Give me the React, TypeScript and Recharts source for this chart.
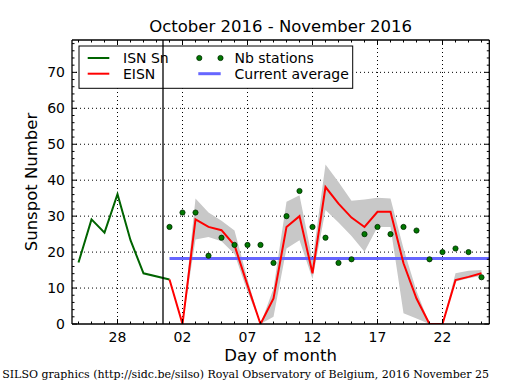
import React from "react";
import {
  ComposedChart,
  Line,
  Area,
  XAxis,
  YAxis,
  CartesianGrid,
  ReferenceLine,
} from "recharts";

// Day numbering: October d -> d, November d -> 31 + d
const isnDays = [25, 26, 27, 28, 29, 30, 32];
const isnValues = [17.1, 29.1, 25.4, 36.1, 23.3, 14.1, 12.4];

const novDays = [32, 33, 34, 35, 36, 37, 38, 39, 40, 41, 42, 43, 44, 45, 46, 47, 48, 49, 50, 51, 52, 53, 54, 55, 56];
const eisnValues = [12.4, 0, 29.1, 27.0, 26.1, 21.9, 10.8, 0, 7.1, 27.0, 30.0, 14.1, 38.1, 33.5, 29.6, 27.0, 31.2, 31.2, 16.9, 7.1, 0, 0, 12.2, 13.1, 14.1];
const nbStations = [27, 31, 31, 19, 24, 22, 22, 22, 17, 30, 37, 27, 24, 17, 18, 25, 27, 25, 27, 26, 18, 20, 21, 20, 13];

const bandDays = [33, 34, 35, 36, 37, 38, 39, 40, 41, 42, 43, 44, 45, 46, 47, 48, 49, 50, 51, 52, 53, 54, 55, 56];
const bandLow = [0, 23.5, 24.2, 23.0, 19.5, 9, 0, 2, 21, 23.3, 12.5, 31.7, 28.2, 24.5, 20.1, 27, 27, 3, 1.5, 0, 0, 11.8, 12.7, 13.4];
const bandHigh = [0, 34.9, 31.0, 28.7, 26.0, 12.5, 0, 9.9, 34, 35.8, 17.8, 44.4, 39.5, 34.3, 34.6, 35.1, 34.9, 21, 9.2, 0, 0, 14.1, 14.8, 15.0];

const currentAverage = 18.2;
const averageStartDay = 32;
const monthBoundary = 31.5;

const xDomain = [24.5, 56.6];
const yDomain = [0, 79];
const xMajorDays = [28, 33, 38, 43, 48, 53];
const xMajorLabels = ["28", "02", "07", "12", "17", "22"];
const xMinorDays = Array.from({ length: 32 }, (_, i) => 25 + i);
const yMajor = [0, 10, 20, 30, 40, 50, 60, 70];
const yMinor = Array.from({ length: 40 }, (_, i) => i * 2);

const legendLabels = ["ISN Sn", "EISN", "Nb stations", "Current average"];

const title = "October 2016 - November 2016";
const xLabel = "Day of month";
const yLabel = "Sunspot Number";
const footer = "SILSO graphics (http://sidc.be/silso) Royal Observatory of Belgium, 2016 November 25";

const rows = xMinorDays.map((d) => {
  const r: any = { day: d };
  const i1 = isnDays.indexOf(d);
  if (i1 >= 0) r.isn = isnValues[i1];
  const i2 = novDays.indexOf(d);
  if (i2 >= 0) {
    r.eisn = eisnValues[i2];
    r.nb = nbStations[i2];
  }
  const i3 = bandDays.indexOf(d);
  if (i3 >= 0) r.band = [bandLow[i3], bandHigh[i3]];
  return r;
});

const FONT = "DejaVu Sans";
const GREEN = "#006400";
const DOT_FILL = "#007800";
const DOT_EDGE = "#002a00";
const BLUE = "#6666ff";

const BottomTick = (props: any) => {
  const { x, y, payload } = props;
  const idx = xMajorDays.indexOf(payload.value);
  const major = idx >= 0;
  return (
    <g>
      <line x1={x} x2={x} y1={y} y2={y - (major ? 5 : 2.5)} stroke="#000" strokeWidth={1} />
      {major && (
        <text x={x} y={y + 17.5} textAnchor="middle" fontSize={14} fontFamily={FONT} fill="#000">
          {xMajorLabels[idx]}
        </text>
      )}
    </g>
  );
};

const TopTick = (props: any) => {
  const { x, y, payload } = props;
  const major = xMajorDays.indexOf(payload.value) >= 0;
  return <line x1={x} x2={x} y1={y} y2={y + (major ? 5 : 2.5)} stroke="#000" strokeWidth={1} />;
};

const LeftTick = (props: any) => {
  const { x, y, payload } = props;
  const major = yMajor.indexOf(payload.value) >= 0;
  return (
    <g>
      <line x1={x} x2={x + (major ? 5 : 2.5)} y1={y} y2={y} stroke="#000" strokeWidth={1} />
      {major && (
        <text x={x - 7} y={y + 5} textAnchor="end" fontSize={14} fontFamily={FONT} fill="#000">
          {payload.value}
        </text>
      )}
    </g>
  );
};

const RightTick = (props: any) => {
  const { x, y, payload } = props;
  const major = yMajor.indexOf(payload.value) >= 0;
  return <line x1={x} x2={x - (major ? 5 : 2.5)} y1={y} y2={y} stroke="#000" strokeWidth={1} />;
};

const LegendBox = () => (
  <g>
    <rect x={79} y={46} width={273.7} height={42.3} fill="#fff" stroke="#000" strokeWidth={1} />
    <line x1={87.7} x2={109.3} y1={58} y2={58} stroke={GREEN} strokeWidth={2} />
    <text x={123} y={63} fontSize={14} fontFamily={FONT} fill="#000">{legendLabels[0]}</text>
    <line x1={87.7} x2={109.3} y1={73.7} y2={73.7} stroke="#ff0000" strokeWidth={2} />
    <text x={123} y={78.7} fontSize={14} fontFamily={FONT} fill="#000">{legendLabels[1]}</text>
    <circle cx={199.3} cy={58} r={2.6} fill={DOT_FILL} stroke={DOT_EDGE} strokeWidth={0.8} />
    <circle cx={220.5} cy={58} r={2.6} fill={DOT_FILL} stroke={DOT_EDGE} strokeWidth={0.8} />
    <text x={234.5} y={63} fontSize={14} fontFamily={FONT} fill="#000">{legendLabels[2]}</text>
    <line x1={198.3} x2={220.7} y1={73.7} y2={73.7} stroke={BLUE} strokeWidth={3} />
    <text x={234.5} y={78.7} fontSize={14} fontFamily={FONT} fill="#000">{legendLabels[3]}</text>
  </g>
);

const axisLineStyle = { stroke: "#000", strokeWidth: 1.3 };

export default function App() {
  return (
    <div style={{ position: "absolute", left: 0, top: 0, width: 515, height: 390, background: "#fff" }}>
      <ComposedChart
        width={515}
        height={390}
        data={rows}
        margin={{ top: 39, right: 24.7, bottom: 36, left: 12 }}
      >
        <CartesianGrid
          verticalValues={xMajorDays}
          horizontalValues={yMajor.filter((v) => v > 0)}
          stroke="#000"
          strokeDasharray="1 3"
          strokeWidth={1}
        />
        <XAxis
          dataKey="day"
          type="number"
          domain={xDomain}
          ticks={xMinorDays}
          interval={0}
          tickSize={0}
          tickMargin={0}
          height={30}
          allowDataOverflow
          axisLine={axisLineStyle}
          tickLine={false}
          tick={BottomTick}
        />
        <XAxis
          xAxisId="top"
          orientation="top"
          dataKey="day"
          type="number"
          domain={xDomain}
          ticks={xMinorDays}
          interval={0}
          tickSize={0}
          tickMargin={0}
          height={1}
          allowDataOverflow
          axisLine={axisLineStyle}
          tickLine={false}
          tick={TopTick}
        />
        <YAxis
          type="number"
          domain={yDomain}
          ticks={yMinor}
          interval={0}
          tickSize={0}
          tickMargin={0}
          width={60}
          allowDataOverflow
          axisLine={axisLineStyle}
          tickLine={false}
          tick={LeftTick}
        />
        <YAxis
          yAxisId="right"
          orientation="right"
          type="number"
          domain={yDomain}
          ticks={yMinor}
          interval={0}
          tickSize={0}
          tickMargin={0}
          width={1}
          allowDataOverflow
          axisLine={axisLineStyle}
          tickLine={false}
          tick={RightTick}
        />
        <Area
          dataKey="band"
          stroke="none"
          fill="#c8c8c8"
          fillOpacity={1}
          isAnimationActive={false}
          activeDot={false}
        />
        <ReferenceLine
          segment={[
            { x: averageStartDay, y: currentAverage },
            { x: xDomain[1], y: currentAverage },
          ]}
          stroke={BLUE}
          strokeWidth={3}
        />
        <Line
          dataKey="isn"
          stroke={GREEN}
          strokeWidth={2}
          dot={false}
          connectNulls
          isAnimationActive={false}
          activeDot={false}
        />
        <Line
          dataKey="eisn"
          stroke="#ff0000"
          strokeWidth={2}
          dot={false}
          isAnimationActive={false}
          activeDot={false}
        />
        <Line
          dataKey="nb"
          stroke="none"
          strokeWidth={0}
          dot={{ r: 2.6, fill: DOT_FILL, stroke: DOT_EDGE, strokeWidth: 0.8 }}
          isAnimationActive={false}
          activeDot={false}
        />
        <LegendBox />
        <ReferenceLine x={monthBoundary} stroke="#000" strokeWidth={1.3} />
      </ComposedChart>
      <svg
        width={515}
        height={390}
        style={{ position: "absolute", left: 0, top: 0, pointerEvents: "none" }}
      >
        <text x={280.6} y={31.5} textAnchor="middle" fontSize={16.5} fontFamily={FONT} fill="#000">
          {title}
        </text>
        <text x={280.6} y={361} textAnchor="middle" fontSize={16.5} fontFamily={FONT} fill="#000">
          {xLabel}
        </text>
        <text
          x={0}
          y={0}
          transform="translate(37,182) rotate(-90)"
          textAnchor="middle"
          fontSize={16.5}
          fontFamily={FONT}
          fill="#000"
        >
          {yLabel}
        </text>
        <text x={489} y={377.5} textAnchor="end" fontSize={11} fontFamily="DejaVu Serif" fill="#000">
          {footer}
        </text>
      </svg>
    </div>
  );
}
